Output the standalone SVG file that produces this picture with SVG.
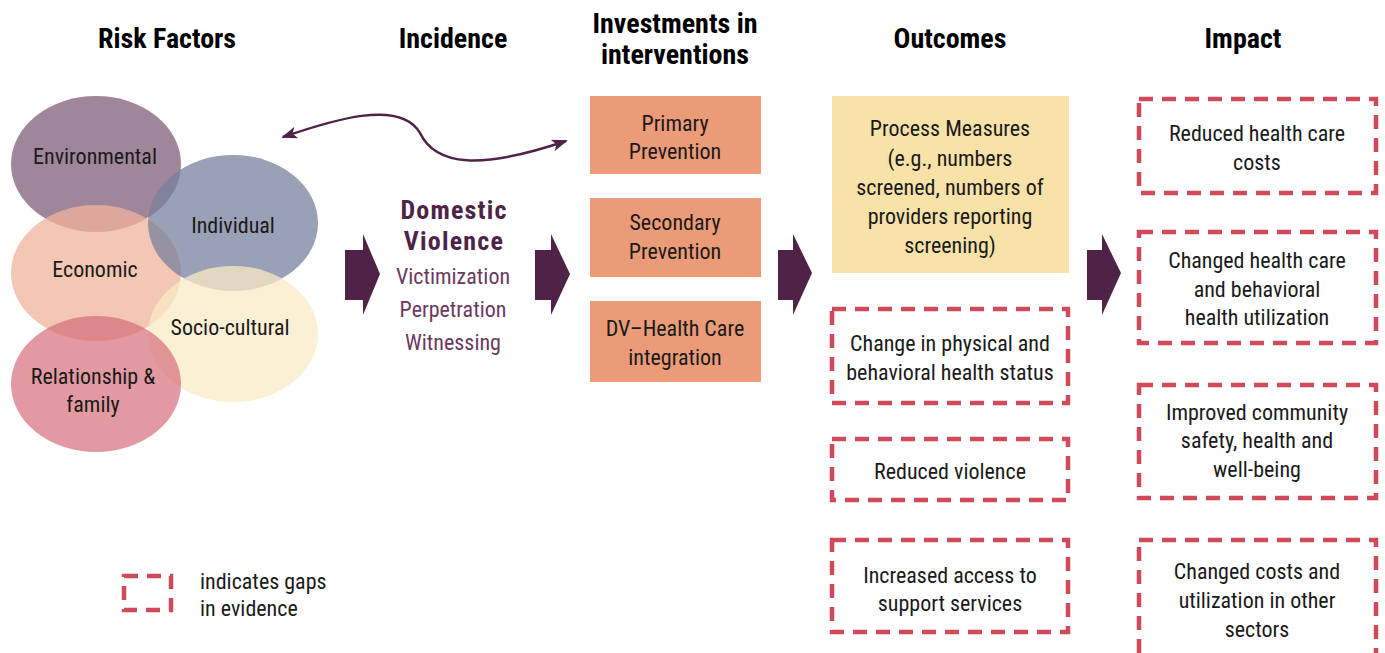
<svg xmlns="http://www.w3.org/2000/svg" width="1385" height="653" viewBox="0 0 1385 653">
<defs>
<style>
text{font-family:"Liberation Sans Narrow","Roboto Condensed","Liberation Sans",sans-serif;text-anchor:middle;fill:#1a1a1a;font-size:22px}
.hd{font-weight:bold;font-size:28px;fill:#000}
.dv{font-weight:bold;font-size:26px;letter-spacing:1.2px;fill:#4f2347}
.dvs{fill:#6a3a60}
.gap{fill:none;stroke:#d14a5a;stroke-width:4.5;stroke-dasharray:14 9}
.org{fill:#ec9b78}
.blk{fill:#4f2347}
.lg{text-anchor:start}
</style>
<marker id="ah" viewBox="0 0 16 12" refX="14" refY="6" markerWidth="16" markerHeight="12" markerUnits="userSpaceOnUse" orient="auto-start-reverse">
<path d="M0,0 L16,6 L0,12 L4,6 Z" fill="#4f2347"/>
</marker>
</defs>
<rect width="1385" height="653" fill="#fff"/>

<g id="headers">
<text class="hd" x="167" y="48">Risk Factors</text>
<text class="hd" x="453" y="48">Incidence</text>
<text class="hd" x="675" y="33">Investments in</text>
<text class="hd" x="675" y="64">interventions</text>
<text class="hd" x="950" y="48">Outcomes</text>
<text class="hd" x="1243" y="48">Impact</text>
</g>

<g id="risk-factors">
<g id="environmental"><ellipse cx="96" cy="164" rx="85" ry="68" fill="#805e7a" fill-opacity="0.75"/></g>
<g id="economic"><ellipse cx="96" cy="273" rx="85" ry="68" fill="#f0b39b" fill-opacity="0.75"/></g>
<g id="individual"><ellipse cx="233" cy="223" rx="85" ry="68" fill="#78809c" fill-opacity="0.75"/></g>
<g id="socio-cultural"><ellipse cx="233" cy="334" rx="85" ry="68" fill="#faeac6" fill-opacity="0.75"/></g>
<g id="relationship"><ellipse cx="96" cy="384" rx="85" ry="68" fill="#d66d79" fill-opacity="0.7"/></g>
<text x="95" y="164">Environmental</text>
<text x="233" y="233">Individual</text>
<text x="95" y="277">Economic</text>
<text x="230" y="335">Socio-cultural</text>
<text x="93" y="384">Relationship &amp;</text>
<text x="93" y="412">family</text>
</g>

<g id="incidence">
<text class="dv" x="454" y="219">Domestic</text>
<text class="dv" x="454" y="250">Violence</text>
<text class="dvs" x="453" y="284">Victimization</text>
<text class="dvs" x="453" y="317">Perpetration</text>
<text class="dvs" x="453" y="350">Witnessing</text>
</g>

<g id="primary-prevention">
<rect class="org" x="590" y="96" width="171" height="78"/>
<text x="675" y="131">Primary</text>
<text x="675" y="159">Prevention</text>
</g>
<g id="secondary-prevention">
<rect class="org" x="590" y="198" width="171" height="79"/>
<text x="675" y="230">Secondary</text>
<text x="675" y="259">Prevention</text>
</g>
<g id="dv-health-care">
<rect class="org" x="590" y="301" width="171" height="81"/>
<text x="675" y="336">DV–Health Care</text>
<text x="675" y="365">integration</text>
</g>

<g id="process-measures">
<rect x="832" y="96" width="237" height="177" fill="#f8e2a8"/>
<text x="950" y="136">Process Measures</text>
<text x="950" y="166">(e.g., numbers</text>
<text x="950" y="195">screened, numbers of</text>
<text x="950" y="224">providers reporting</text>
<text x="950" y="253">screening)</text>
</g>
<g id="health-status">
<rect class="gap" x="832" y="309" width="236" height="94"/>
<text x="950" y="351">Change in physical and</text>
<text x="950" y="380">behavioral health status</text>
</g>
<g id="reduced-violence">
<rect class="gap" x="832" y="439" width="236" height="61"/>
<text x="950" y="479">Reduced violence</text>
</g>
<g id="support-services">
<rect class="gap" x="832" y="540" width="236" height="92"/>
<text x="950" y="583">Increased access to</text>
<text x="950" y="611">support services</text>
</g>

<g id="reduced-costs">
<rect class="gap" x="1139" y="99" width="237" height="94"/>
<text x="1257" y="141">Reduced health care</text>
<text x="1257" y="170">costs</text>
</g>
<g id="changed-utilization">
<rect class="gap" x="1139" y="232" width="237" height="111"/>
<text x="1257" y="268">Changed health care</text>
<text x="1257" y="297">and behavioral</text>
<text x="1257" y="325">health utilization</text>
</g>
<g id="community-safety">
<rect class="gap" x="1139" y="385" width="237" height="113"/>
<text x="1257" y="420">Improved community</text>
<text x="1257" y="448">safety, health and</text>
<text x="1257" y="477">well-being</text>
</g>
<g id="other-sectors">
<rect class="gap" x="1139" y="540" width="237" height="130"/>
<text x="1257" y="579">Changed costs and</text>
<text x="1257" y="608">utilization in other</text>
<text x="1257" y="637">sectors</text>
</g>

<g id="connectors">
<path d="M283,137 C330,121 400,98 420,133 C436,166 480,170 566,141" fill="none" stroke="#4f2347" stroke-width="2.5" marker-start="url(#ah)" marker-end="url(#ah)"/>
<path class="blk" d="M345,250 H363 V234 L380,274 L363,315 V300 H345 Z"/>
<path class="blk" d="M535,250 H551 V234 L570,274 L551,315 V300 H535 Z"/>
<path class="blk" d="M778,250 H793 V234 L812,273 L793,315 V300 H778 Z"/>
<path class="blk" d="M1087,250 H1102 V234 L1121,273 L1102,315 V300 H1087 Z"/>
</g>

<g id="legend">
<rect class="gap" x="124" y="576" width="47" height="34" stroke-dasharray="10 8"/>
<text class="lg" x="200" y="589">indicates gaps</text>
<text class="lg" x="200" y="616">in evidence</text>
</g>
</svg>
